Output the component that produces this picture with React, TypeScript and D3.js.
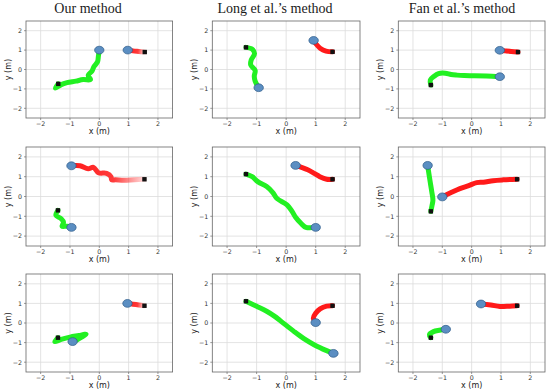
import React from 'react';
import * as d3 from 'd3';

type Pt = [number, number];

const methods = ['Our method', 'Long et al.\u2019s method', 'Fan et al.\u2019s method'];
const ticks = [-2, -1, 0, 1, 2];
const domain: [number, number] = [-2.5, 2.5];

// each trajectory: list of (x, y) from the start square to the robot (circle)
const ourRed1: Pt[] = [[1.55, 0.9], [1.35, 0.93], [1.15, 0.96], [0.97, 1.0]];
const ourGreen1: Pt[] = [[-1.4, -0.74], [-1.5, -0.96], [-1.3, -0.78], [-1.1, -0.68], [-0.8, -0.6], [-0.55, -0.52], [-0.3, -0.52], [-0.38, -0.3], [-0.25, -0.08], [-0.18, 0.15], [-0.06, 0.4], [-0.03, 0.7], [0, 1.0]];
const longRed1: Pt[] = [[1.57, 0.91], [1.35, 0.95], [1.15, 1.1], [1.02, 1.3], [0.93, 1.5]];
const longGreen1: Pt[] = [[-1.36, 1.14], [-1.15, 1.05], [-1.07, 0.82], [-1.18, 0.5], [-1.2, 0.24], [-1.05, -0.05], [-1.08, -0.35], [-1.05, -0.6], [-0.93, -0.94]];
const fanRed1: Pt[] = [[1.58, 0.9], [1.35, 0.93], [1.15, 0.96], [0.96, 0.99]];
const fanGreen1: Pt[] = [[-1.39, -0.8], [-1.41, -0.55], [-1.28, -0.35], [-1.13, -0.21], [-0.9, -0.19], [-0.7, -0.26], [-0.5, -0.29], [-0.25, -0.31], [0.1, -0.32], [0.5, -0.34], [0.96, -0.37]];

const ourRed2: Pt[] = [[1.54, 0.87], [1.2, 0.85], [0.85, 0.82], [0.55, 0.84], [0.42, 0.84], [0.4, 1.0], [0.25, 1.17], [-0.03, 1.2], [-0.2, 1.47], [-0.38, 1.4], [-0.66, 1.55], [-0.95, 1.55]];
const ourGreen2: Pt[] = [[-1.41, -0.7], [-1.48, -0.95], [-1.3, -1.12], [-1.22, -1.3], [-1.27, -1.5], [-1.1, -1.5], [-0.95, -1.56]];
const longRed2: Pt[] = [[1.57, 0.87], [1.37, 0.87], [1.14, 1.0], [0.95, 1.17], [0.73, 1.35], [0.5, 1.48], [0.32, 1.57]];
const longGreen2: Pt[] = [[-1.36, 1.13], [-1.15, 1.0], [-0.96, 0.75], [-0.66, 0.5], [-0.45, 0.2], [-0.31, -0.1], [0.03, -0.42], [0.2, -0.75], [0.32, -1.05], [0.5, -1.35], [0.67, -1.56], [1.0, -1.56]];
const fanRed2: Pt[] = [[1.55, 0.87], [1.07, 0.84], [0.73, 0.8], [0.4, 0.72], [0.17, 0.7], [-0.1, 0.55], [-0.4, 0.4], [-0.7, 0.2], [-1.0, -0.02]];
const fanGreen2: Pt[] = [[-1.39, -0.75], [-1.35, -0.45], [-1.32, -0.19], [-1.36, 0.25], [-1.42, 0.8], [-1.5, 1.57]];

const ourRed3: Pt[] = [[1.54, 0.88], [1.35, 0.92], [1.15, 0.96], [0.96, 1.0]];
const ourGreen3: Pt[] = [[-1.41, -0.75], [-1.52, -0.95], [-1.3, -0.84], [-1.0, -0.72], [-0.7, -0.64], [-0.45, -0.57], [-0.6, -0.72], [-0.75, -0.85], [-0.91, -0.95]];
const longRed3: Pt[] = [[1.57, 0.88], [1.37, 0.86], [1.15, 0.72], [1.0, 0.5], [0.92, 0.25], [1.0, 0.02]];
const longGreen3: Pt[] = [[-1.36, 1.11], [-1.0, 0.85], [-0.66, 0.6], [-0.4, 0.35], [-0.2, 0.12], [0.27, -0.44], [0.6, -0.8], [0.96, -1.12], [1.37, -1.41], [1.6, -1.55]];
const fanRed3: Pt[] = [[1.55, 0.88], [1.3, 0.86], [0.96, 0.84], [0.65, 0.92], [0.32, 0.97]];
const fanGreen3: Pt[] = [[-1.39, -0.75], [-1.44, -0.6], [-1.3, -0.44], [-1.1, -0.37], [-0.88, -0.32]];

const panels = [
  { red: ourRed1, green: ourGreen1, fade: true },
  { red: longRed1, green: longGreen1, fade: false },
  { red: fanRed1, green: fanGreen1, fade: false },
  { red: ourRed2, green: ourGreen2, fade: true },
  { red: longRed2, green: longGreen2, fade: false },
  { red: fanRed2, green: fanGreen2, fade: false },
  { red: ourRed3, green: ourGreen3, fade: true },
  { red: longRed3, green: longGreen3, fade: false },
  { red: fanRed3, green: fanGreen3, fade: false },
];

const cols = [[26, 172.6], [212.3, 360], [398.3, 545]];
const rows = [[21, 118], [147, 246], [274, 372]];
const titleX = [88, 275, 462];

const RED = '#ff1a1a';
const GREEN = '#22f022';

const Panel: React.FC<{ idx: number }> = ({ idx }) => {
  const c = idx % 3, r = Math.floor(idx / 3);
  const [x0, x1] = cols[c];
  const [y0, y1] = rows[r];
  const x = d3.scaleLinear().domain(domain).range([x0, x1]);
  const y = d3.scaleLinear().domain(domain).range([y1, y0]);
  const line = d3.line<Pt>().x(d => x(d[0])).y(d => y(d[1])).curve(d3.curveCatmullRom.alpha(0.5));
  const p = panels[idx];
  const rx = Math.abs(x(0.16) - x(0));
  const ry = Math.abs(y(0.2) - y(0));
  const tickFont = { fontFamily: 'DejaVu Sans', fontSize: 6.3, fill: '#333' };
  const fmt = (t: number) => (t < 0 ? `\u2212${-t}` : `${t}`);

  const traj = (pts: Pt[], color: string, key: string, fade: boolean) => {
    const s = pts[0], e = pts[pts.length - 1];
    const gid = `g${idx}${key}`;
    return (
      <g key={key}>
        {fade && (
          <defs>
            <linearGradient id={gid} gradientUnits="userSpaceOnUse" x1={x(s[0])} y1={y(s[1])} x2={x(e[0])} y2={y(e[1])}>
              <stop offset="0%" stopColor={color} stopOpacity={0.15} />
              <stop offset="40%" stopColor={color} stopOpacity={0.85} />
              <stop offset="100%" stopColor={color} stopOpacity={1} />
            </linearGradient>
          </defs>
        )}
        <path d={line(pts) || ''} fill="none" stroke={fade ? `url(#${gid})` : color} strokeWidth={5}
          strokeLinecap="round" strokeLinejoin="round" />
        <rect x={x(s[0]) - 2.2} y={y(s[1]) - 2.2} width={4.4} height={4.4} fill="#111" />
        <ellipse cx={x(e[0])} cy={y(e[1])} rx={rx} ry={ry} fill="#5b8ec2" stroke="#2d5a88" strokeWidth={0.7} />
      </g>
    );
  };

  return (
    <g>
      {ticks.map(t => (
        <g key={'gx' + t}>
          <line x1={x(t)} x2={x(t)} y1={y0} y2={y1} stroke="#dcdcdc" strokeWidth={0.8} />
          <line x1={x0} x2={x1} y1={y(t)} y2={y(t)} stroke="#dcdcdc" strokeWidth={0.8} />
          <text x={x(t)} y={y1 + 7.5} textAnchor="middle" {...tickFont}>{fmt(t)}</text>
          <text x={x0 - 4} y={y(t) + 2.3} textAnchor="end" {...tickFont}>{fmt(t)}</text>
          <line x1={x(t)} x2={x(t)} y1={y1} y2={y1 + 2} stroke="#555" strokeWidth={0.6} />
          <line x1={x0 - 2} x2={x0} y1={y(t)} y2={y(t)} stroke="#555" strokeWidth={0.6} />
        </g>
      ))}
      {traj(p.green, GREEN, 'gr', false)}
      {traj(p.red, RED, 'rd', p.fade)}
      <rect x={x0} y={y0} width={x1 - x0} height={y1 - y0} fill="none" stroke="#666" strokeWidth={0.8} />
      <text x={(x0 + x1) / 2} y={y1 + 15.5} textAnchor="middle" fontFamily="DejaVu Sans" fontSize={8} fill="#222">x (m)</text>
      <text transform={`translate(${x0 - 15},${(y0 + y1) / 2}) rotate(-90)`} textAnchor="middle" fontFamily="DejaVu Sans" fontSize={8} fill="#222">y (m)</text>
    </g>
  );
};

export default function App() {
  return (
    <svg width={550} height={391} style={{ position: 'absolute', left: 0, top: 0, background: '#fff' }}>
      <rect width={550} height={391} fill="#fff" />
      {methods.map((m, i) => (
        <text key={m} x={titleX[i]} y={13} textAnchor="middle" fontFamily="Liberation Serif" fontSize={14} fill="#1a1a1a">{m}</text>
      ))}
      {panels.map((_, i) => <Panel key={i} idx={i} />)}
    </svg>
  );
}
